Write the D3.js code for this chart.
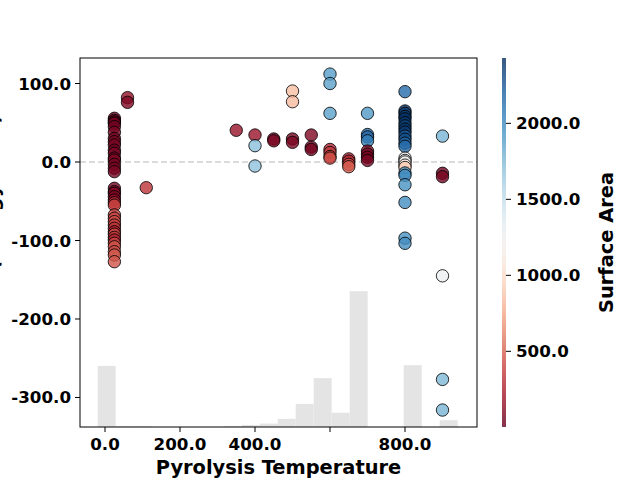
<!DOCTYPE html>
<html>
<head>
<meta charset="utf-8">
<script src="https://cdn.jsdelivr.net/npm/d3@7"></script>
<style>
  body { margin: 0; background: #fff; }
  text { font-family: "DejaVu Sans", sans-serif; font-weight: bold; }
</style>
</head>
<body>
<script>
// scatter points: pyrolysis temperature, residual, surface area
var temps = [
  25,25,25,25,25,25,25,25,25,25,25,25,25,25,25,25,25,25,25,25,25,25,25,25,25,25,25,25,25,25,25,25,25,25,25,25,25,
  60,60,110,350,400,400,400,450,450,500,500,500,500,550,550,550,
  600,600,600,600,600,600,600,650,650,650,650,
  700,700,700,700,700,700,700,700,
  800,800,800,800,800,800,800,800,800,800,800,800,800,800,800,800,800,800,800,800,800,800,800,800,
  900,900,900,900,900,900
];
var residuals = [
  55.7,53,51,49.3,45,37.8,30,25.9,21.7,15,11.1,5,2.5,-3,-8,-12.3,-33.5,-37.8,-40,-44.2,-48.4,-52,-55,-67.5,-71.7,-76,-80.3,-84.5,-88.8,-92,-96,-99.4,-103.6,-108,-114.3,-118.5,-127,
  82,76,-32.7,40.4,34.4,20.8,-5.1,29.3,27,90.4,76.8,29.3,25,34.4,19,16,
  112,100,62,16,12,7,5,4,1,-3,-6,
  62,35,32,27,14,10,6,2,
  89.6,65,62,58,55,50,46,42,38,33,29,24,20,5,2,0,-4,-7,-14,-17,-29,-51.5,-97,-103.6,
  33,-14.4,-18.7,-145,-277,-316
];
var surfaceArea = [
  20,30,15,40,25,60,35,50,45,30,55,40,70,45,60,50,40,70,90,60,110,300,380,400,380,420,360,330,200,420,350,250,400,440,420,460,450,
  150,80,330,160,170,1720,1700,40,60,850,830,50,70,80,30,50,
  1900,1880,1880,250,350,400,420,220,280,420,480,
  1920,2150,2180,2050,80,60,40,50,
  2150,2420,2400,2380,2430,2400,2350,2420,2380,2250,2300,2200,2150,1250,1300,1200,1100,900,1950,2000,1950,1980,1950,1980,
  1780,30,50,1270,1760,1780
];

// background histogram of temperatures
var binEdges = [-19.5,28.5,76.5,124.5,172.5,220.5,268.5,316.5,364.5,412.5,460.5,508.5,556.5,604.5,652.5,700.5,748.5,796.5,844.5,892.5,940.5];
var binCounts = [90,1,1,0,0,0,0,1,3,5,12,34,72,21,200,0,0,91,0,10];

var xTicks = [0, 200, 400, 600, 800];
var xTickLabels = ['0.0', '200.0', '400.0', '', '800.0'];
var yTicks = [100, 0, -100, -200, -300];
var cbTicks = [500, 1000, 1500, 2000];

var W = 640, H = 480;
var plotL = 80, plotR = 477, plotT = 58, plotB = 427;

var fmt = d => d.toFixed(1);

var svg = d3.select("body").append("svg").attr("width", W).attr("height", H);

var x = d3.scaleLinear().domain([-66.7, 992]).range([plotL, plotR]);
var y = d3.scaleLinear().domain([-337.6, 132.5]).range([plotB, plotT]);
var color = d3.scaleSequential(d3.interpolateRdBu).domain([2, 2430]);
var hy = d3.scaleLinear().domain([0, d3.max(binCounts)]).range([0, (plotB - plotT) * 0.368]);

// histogram
svg.append("g").selectAll("rect")
    .data(binCounts)
    .enter().append("rect")
    .attr("x", (d, i) => x(binEdges[i]))
    .attr("width", (d, i) => x(binEdges[i + 1]) - x(binEdges[i]))
    .attr("y", d => plotB - hy(d))
    .attr("height", d => hy(d))
    .attr("fill", "#e4e4e4");

// zero line
svg.append("line")
    .attr("x1", plotL).attr("x2", plotR)
    .attr("y1", y(0)).attr("y2", y(0))
    .attr("stroke", "#cfcfcf")
    .attr("stroke-width", 1.5)
    .attr("stroke-dasharray", "6,3");

// points
svg.append("g").selectAll("circle")
    .data(temps)
    .enter().append("circle")
    .attr("cx", d => x(d))
    .attr("cy", (d, i) => y(residuals[i]))
    .attr("r", 6.2)
    .attr("fill", (d, i) => color(surfaceArea[i]))
    .attr("fill-opacity", 0.8)
    .attr("stroke", "#000")
    .attr("stroke-opacity", 0.8)
    .attr("stroke-width", 1);

// frame
svg.append("rect")
    .attr("x", plotL).attr("y", plotT)
    .attr("width", plotR - plotL).attr("height", plotB - plotT)
    .attr("fill", "none").attr("stroke", "#000").attr("stroke-width", 1);

// x axis
var xAxis = svg.append("g");
xAxis.selectAll("line")
    .data(xTicks)
    .enter().append("line")
    .attr("x1", d => x(d)).attr("x2", d => x(d))
    .attr("y1", plotB).attr("y2", plotB + 5)
    .attr("stroke", "#000");
xAxis.selectAll("text")
    .data(xTicks)
    .enter().append("text")
    .attr("x", d => x(d))
    .attr("y", 450)
    .attr("text-anchor", "middle")
    .attr("font-size", "16.7px")
    .text((d, i) => xTickLabels[i]);

// y axis
var yAxis = svg.append("g");
yAxis.selectAll("line")
    .data(yTicks)
    .enter().append("line")
    .attr("x1", plotL - 5).attr("x2", plotL)
    .attr("y1", d => y(d)).attr("y2", d => y(d))
    .attr("stroke", "#000");
yAxis.selectAll("text")
    .data(yTicks)
    .enter().append("text")
    .attr("x", 71)
    .attr("y", d => y(d))
    .attr("dy", "0.36em")
    .attr("text-anchor", "end")
    .attr("font-size", "16.7px")
    .text(d => fmt(d));

svg.append("text")
    .attr("x", (plotL + plotR) / 2)
    .attr("y", 474)
    .attr("text-anchor", "middle")
    .attr("font-size", "19.4px")
    .text("Pyrolysis Temperature");

// y label sits mostly off the left edge, as in the original
svg.append("text")
    .attr("transform", "translate(-0.8," + (plotT + plotB) / 2 + ") rotate(-90)")
    .attr("text-anchor", "middle")
    .attr("font-size", "19.4px")
    .text("Residual (Energy Yield)");

// colorbar
var cbLeft = 502, cbWidth = 4;
var cb = d3.scaleLinear().domain(color.domain()).range([plotB, plotT]);
var defs = svg.append("defs");
var grad = defs.append("linearGradient")
    .attr("id", "cbgrad")
    .attr("x1", "0").attr("y1", "1").attr("x2", "0").attr("y2", "0");
grad.selectAll("stop")
    .data(d3.range(0, 1.0001, 0.05))
    .enter().append("stop")
    .attr("offset", d => d)
    .attr("stop-color", d => d3.interpolateRdBu(d));
svg.append("rect")
    .attr("x", cbLeft).attr("y", plotT)
    .attr("width", cbWidth).attr("height", plotB - plotT)
    .attr("fill", "url(#cbgrad)")
    .attr("opacity", 0.8);

svg.append("g").selectAll("line")
    .data(cbTicks)
    .enter().append("line")
    .attr("x1", cbLeft + cbWidth).attr("x2", cbLeft + cbWidth + 5)
    .attr("y1", d => cb(d)).attr("y2", d => cb(d))
    .attr("stroke", "#000");
svg.append("g").selectAll("text")
    .data(cbTicks)
    .enter().append("text")
    .attr("x", 516)
    .attr("y", d => cb(d))
    .attr("dy", "0.36em")
    .attr("font-size", "16.7px")
    .text(d => fmt(d));

svg.append("text")
    .attr("transform", "translate(613," + (plotT + plotB) / 2 + ") rotate(-90)")
    .attr("text-anchor", "middle")
    .attr("font-size", "19.4px")
    .text("Surface Area");
</script>
</body>
</html>
